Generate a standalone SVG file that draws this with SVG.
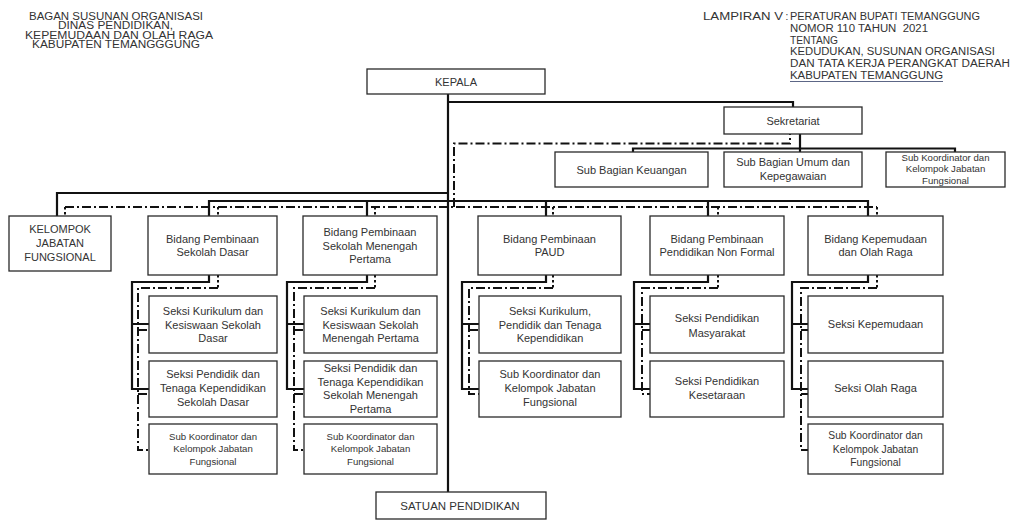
<svg xmlns="http://www.w3.org/2000/svg" width="1014" height="520" viewBox="0 0 1014 520">
<style>
.bx{fill:#fff;stroke:#2a2a2a;stroke-width:1.3}
.t{font-family:"Liberation Sans",Arial,sans-serif;font-size:11px;fill:#333;text-anchor:middle}
.sm{font-size:9.6px}
.md{font-size:10.3px}
.h{font-family:"Liberation Sans",Arial,sans-serif;font-size:10px;fill:#333}
.ln{fill:none;stroke:#111;stroke-width:2.2}
.dd{fill:none;stroke:#111;stroke-width:2;stroke-dasharray:9 3 2 3}
.dt{fill:none;stroke:#111;stroke-width:2;stroke-dasharray:2.5 2.5}
</style>
<rect width="1014" height="520" fill="#fff"/>

<g id="header-left">
<text class="h" x="29" y="19.5" textLength="174" lengthAdjust="spacingAndGlyphs">BAGAN SUSUNAN ORGANISASI</text>
<text class="h" x="58" y="29.2" textLength="115" lengthAdjust="spacingAndGlyphs">DINAS PENDIDIKAN,</text>
<text class="h" x="25" y="38.6" textLength="188" lengthAdjust="spacingAndGlyphs">KEPEMUDAAN DAN OLAH RAGA</text>
<text class="h" x="32" y="48" textLength="168" lengthAdjust="spacingAndGlyphs">KABUPATEN TEMANGGGUNG</text>
</g>

<g id="header-right">
<text class="h" x="703" y="19.7" textLength="80" lengthAdjust="spacingAndGlyphs">LAMPIRAN V</text>
<text class="h" x="785.5" y="19.7">:</text>
<text class="h" x="790" y="19.7" textLength="190" lengthAdjust="spacingAndGlyphs">PERATURAN BUPATI TEMANGGUNG</text>
<text class="h" x="790" y="31.8" textLength="138" lengthAdjust="spacingAndGlyphs">NOMOR 110 TAHUN &#160;2021</text>
<text class="h" x="790" y="43.6" textLength="48" lengthAdjust="spacingAndGlyphs">TENTANG</text>
<text class="h" x="790" y="55.3" textLength="205" lengthAdjust="spacingAndGlyphs">KEDUDUKAN, SUSUNAN ORGANISASI</text>
<text class="h" x="790" y="66.5" textLength="220" lengthAdjust="spacingAndGlyphs">DAN TATA KERJA PERANGKAT DAERAH</text>
<text class="h" x="790" y="78.5" textLength="153" lengthAdjust="spacingAndGlyphs">KABUPATEN TEMANGGUNG</text>
<line x1="790" y1="81.5" x2="943" y2="81.5" stroke="#4a5578" stroke-width="0.9"/>
</g>

<g id="connectors">
<!-- solid lines -->
<path class="ln" d="M448 94 V492"/>
<path class="ln" d="M448 102 H793 V107"/>
<path class="ln" d="M800 134 V152"/>
<path class="ln" d="M633 152 V148.5 H955 V152"/>
<path class="ln" d="M448 193 H57 V216"/>
<path class="ln" d="M209 216 V201 H868 V216"/>
<path class="ln" d="M367 201 V216 M546 201 V216 M708 201 V216"/>
<path class="ln" d="M209 275 V282 H132 V389 H149 M132 324 H149"/>
<path class="ln" d="M367 275 V282 H287 V389 H304 M287 324 H304"/>
<path class="ln" d="M546 275 V282 H462 V389 H479 M462 324 H479"/>
<path class="ln" d="M708 275 V282 H634 V389 H650 M634 324 H650"/>
<path class="ln" d="M868 275 V282 H792 V389 H808 M792 324 H808"/>
<!-- dash-dot lines -->
<path class="dd" d="M454 207 V143.5 H790 V134"/>
<path class="dd" d="M65 207 H877"/>
<path class="dt" d="M65 207 V216 M218 207 V216 M375 207 V216 M553 207 V216 M718 207 V216 M877 207 V216"/>
<path class="dt" d="M218 275 V288 M375 275 V288 M553 275 V288 M718 275 V288 M877 275 V288"/>
<path class="dd" d="M218 288 H138 V450 H149 M138 330 H149 M138 394 H149"/>
<path class="dd" d="M375 288 H294 V450 H304 M294 330 H304 M294 394 H304"/>
<path class="dd" d="M553 288 H469 V394 H479 M469 330 H479"/>
<path class="dd" d="M718 288 H642 V394 H650 M642 330 H650"/>
<path class="dd" d="M877 288 H801 V450 H808 M801 330 H808 M801 394 H808"/>
</g>

<g id="kepala">
<rect class="bx" x="367" y="69" width="178" height="25"/>
<text class="t" x="456" y="85.5">KEPALA</text>
</g>

<g id="sekretariat">
<rect class="bx" x="724" y="107" width="138" height="27"/>
<text class="t" x="793" y="124.5">Sekretariat</text>
</g>

<g id="subbag-keuangan">
<rect class="bx" x="555" y="152" width="153" height="35"/>
<text class="t" x="631.5" y="173.5">Sub Bagian Keuangan</text>
</g>

<g id="subbag-umum">
<rect class="bx" x="724" y="152" width="138" height="35"/>
<text class="t" x="793" y="166">Sub Bagian Umum dan</text>
<text class="t" x="793" y="180">Kepegawaian</text>
</g>

<g id="subkoor-sekretariat">
<rect class="bx" x="886" y="152" width="119" height="35"/>
<text class="t sm" x="945.5" y="160.5">Sub Koordinator dan</text>
<text class="t sm" x="945.5" y="172">Kelompok Jabatan</text>
<text class="t sm" x="945.5" y="183.5">Fungsional</text>
</g>

<g id="kelompok-jabatan-fungsional">
<rect class="bx" x="9" y="216" width="102" height="55"/>
<text class="t" x="60" y="233">KELOMPOK</text>
<text class="t" x="60" y="247">JABATAN</text>
<text class="t" x="60" y="261">FUNGSIONAL</text>
</g>

<g id="bidang-sd">
<rect class="bx" x="148" y="216" width="129" height="59"/>
<text class="t" x="212.5" y="242.5">Bidang Pembinaan</text>
<text class="t" x="212.5" y="256">Sekolah Dasar</text>
</g>

<g id="bidang-smp">
<rect class="bx" x="303" y="216" width="134" height="59"/>
<text class="t" x="370" y="236">Bidang Pembinaan</text>
<text class="t" x="370" y="249.5">Sekolah Menengah</text>
<text class="t" x="370" y="263">Pertama</text>
</g>

<g id="bidang-paud">
<rect class="bx" x="478" y="216" width="143" height="59"/>
<text class="t" x="549.5" y="242.5">Bidang Pembinaan</text>
<text class="t" x="549.5" y="256">PAUD</text>
</g>

<g id="bidang-pnf">
<rect class="bx" x="650" y="216" width="134" height="59"/>
<text class="t" x="717" y="242.5">Bidang Pembinaan</text>
<text class="t" x="717" y="256">Pendidikan Non Formal</text>
</g>

<g id="bidang-kepemudaan">
<rect class="bx" x="808" y="216" width="135" height="59"/>
<text class="t" x="875.5" y="242.5">Bidang Kepemudaan</text>
<text class="t" x="875.5" y="256">dan Olah Raga</text>
</g>

<g id="sd-kurikulum">
<rect class="bx" x="149" y="296" width="128" height="57"/>
<text class="t" x="213" y="315">Seksi Kurikulum dan</text>
<text class="t" x="213" y="328.5">Kesiswaan Sekolah</text>
<text class="t" x="213" y="342">Dasar</text>
</g>
<g id="sd-pendidik">
<rect class="bx" x="149" y="361" width="128" height="56"/>
<text class="t" x="213" y="378">Seksi Pendidik dan</text>
<text class="t" x="213" y="391.5">Tenaga Kependidikan</text>
<text class="t" x="213" y="405.5">Sekolah Dasar</text>
</g>
<g id="sd-subkoor">
<rect class="bx" x="149" y="424" width="128" height="50"/>
<text class="t sm" x="213" y="439.5">Sub Koordinator dan</text>
<text class="t sm" x="213" y="452">Kelompok Jabatan</text>
<text class="t sm" x="213" y="465">Fungsional</text>
</g>

<g id="smp-kurikulum">
<rect class="bx" x="304" y="296" width="133" height="57"/>
<text class="t" x="370.5" y="315">Seksi Kurikulum dan</text>
<text class="t" x="370.5" y="328.5">Kesiswaan Sekolah</text>
<text class="t" x="370.5" y="342">Menengah Pertama</text>
</g>
<g id="smp-pendidik">
<rect class="bx" x="304" y="361" width="133" height="56"/>
<text class="t" x="370.5" y="372">Seksi Pendidik dan</text>
<text class="t" x="370.5" y="385.7">Tenaga Kependidikan</text>
<text class="t" x="370.5" y="399.4">Sekolah Menengah</text>
<text class="t" x="370.5" y="413">Pertama</text>
</g>
<g id="smp-subkoor">
<rect class="bx" x="304" y="424" width="133" height="50"/>
<text class="t sm" x="370.5" y="439.5">Sub Koordinator dan</text>
<text class="t sm" x="370.5" y="452">Kelompok Jabatan</text>
<text class="t sm" x="370.5" y="465">Fungsional</text>
</g>

<g id="paud-kurikulum">
<rect class="bx" x="479" y="296" width="142" height="57"/>
<text class="t" x="550" y="315">Seksi Kurikulum,</text>
<text class="t" x="550" y="328.5">Pendidik dan Tenaga</text>
<text class="t" x="550" y="342">Kependidikan</text>
</g>
<g id="paud-subkoor">
<rect class="bx" x="479" y="361" width="142" height="56"/>
<text class="t" x="550" y="378">Sub Koordinator dan</text>
<text class="t" x="550" y="391.5">Kelompok Jabatan</text>
<text class="t" x="550" y="405.5">Fungsional</text>
</g>

<g id="pnf-masyarakat">
<rect class="bx" x="650" y="296" width="134" height="57"/>
<text class="t" x="717" y="322">Seksi Pendidikan</text>
<text class="t" x="717" y="336.5">Masyarakat</text>
</g>
<g id="pnf-kesetaraan">
<rect class="bx" x="650" y="361" width="134" height="56"/>
<text class="t" x="717" y="384.5">Seksi Pendidikan</text>
<text class="t" x="717" y="399">Kesetaraan</text>
</g>

<g id="kep-kepemudaan">
<rect class="bx" x="808" y="296" width="135" height="57"/>
<text class="t" x="875.5" y="328">Seksi Kepemudaan</text>
</g>
<g id="kep-olahraga">
<rect class="bx" x="808" y="361" width="135" height="56"/>
<text class="t" x="875.5" y="392">Seksi Olah Raga</text>
</g>
<g id="kep-subkoor">
<rect class="bx" x="808" y="424" width="135" height="50"/>
<text class="t md" x="875.5" y="439">Sub Koordinator dan</text>
<text class="t md" x="875.5" y="452.5">Kelompok Jabatan</text>
<text class="t md" x="875.5" y="466">Fungsional</text>
</g>

<g id="satuan-pendidikan">
<rect class="bx" x="376" y="492" width="170" height="27"/>
<text class="t" x="460" y="510" style="font-size:11.5px">SATUAN PENDIDIKAN</text>
</g>
</svg>
